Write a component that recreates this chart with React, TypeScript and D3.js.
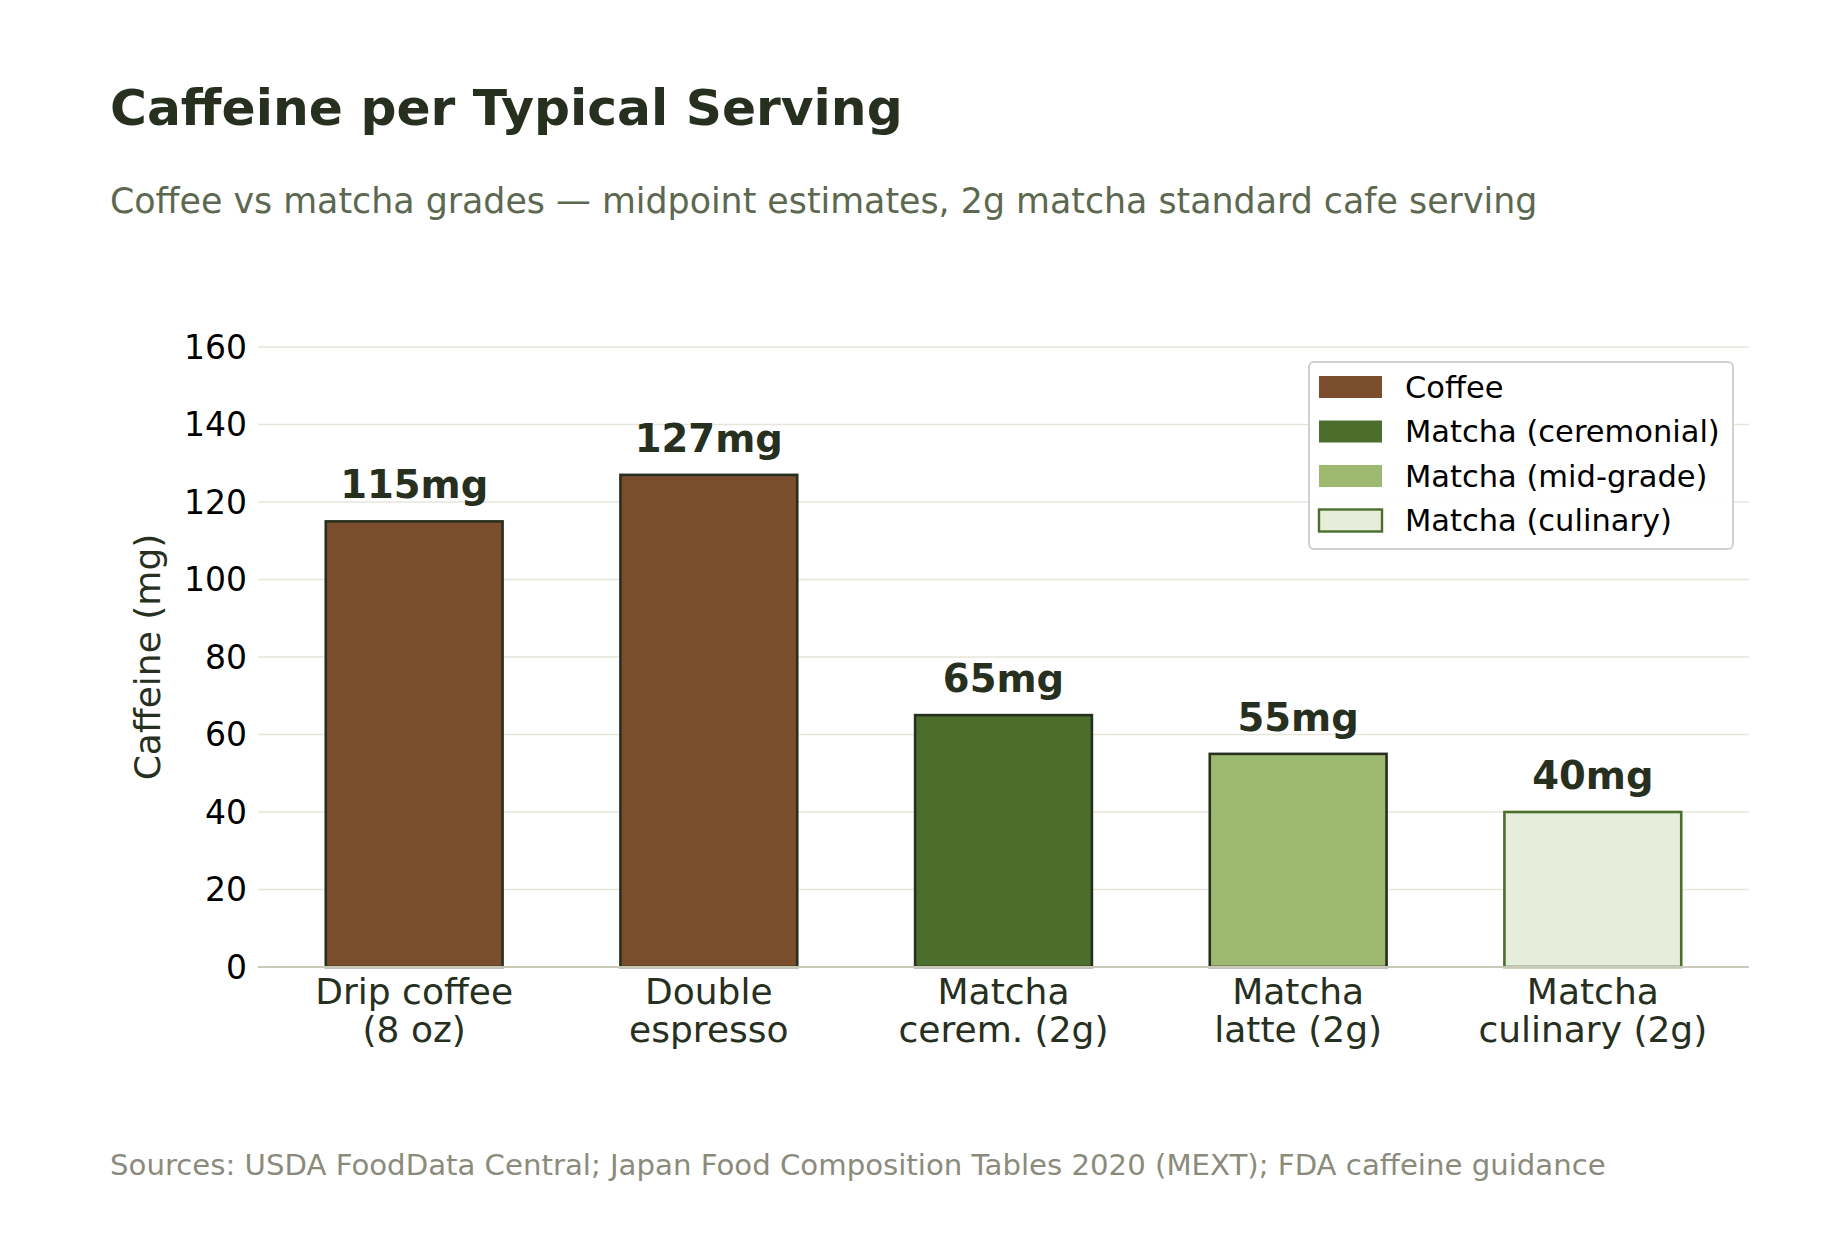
import React from 'react';
import * as d3 from 'd3';

// chart data
const categories = ['Drip coffee\n(8 oz)', 'Double\nespresso', 'Matcha\ncerem. (2g)', 'Matcha\nlatte (2g)', 'Matcha\nculinary (2g)'];
const caffeineMg = [115, 127, 65, 55, 40];
const barGroups = ['Coffee', 'Coffee', 'Matcha (ceremonial)', 'Matcha (mid-grade)', 'Matcha (culinary)'];
const legendLabels = ['Coffee', 'Matcha (ceremonial)', 'Matcha (mid-grade)', 'Matcha (culinary)'];
const yTicks = [0, 20, 40, 60, 80, 100, 120, 140, 160];

const FONT = '"DejaVu Sans", Verdana, sans-serif';
const INK = '#27301f';

const App = () => {
  const width = 1839;
  const height = 1240;
  const margin = { top: 347, right: 90, bottom: 273, left: 258 };

  const x = d3.scaleBand<string>()
    .domain(categories)
    .range([margin.left, width - margin.right])
    .paddingInner(0.4)
    .paddingOuter(0.23);

  const y = d3.scaleLinear()
    .domain([0, 160])
    .range([height - margin.bottom, margin.top]);

  const fill = d3.scaleOrdinal<string, string>()
    .domain(legendLabels)
    .range(['#7a4e2c', '#4c6e2d', '#9db86f', '#e6eedb']);
  const edge = d3.scaleOrdinal<string, string>()
    .domain(legendLabels)
    .range([INK, INK, INK, '#4c6e2d']);

  const legendX = 1309;
  const legendY = 362;

  return (
    <svg width={width} height={height} style={{ position: 'absolute', left: 0, top: 0, background: '#fff' }}
      fontFamily={FONT}>
      <text x={110} y={125} fontSize={50.3} fontWeight="bold" fill={INK}>Caffeine per Typical Serving</text>
      <text x={110} y={213} fontSize={34.8} fill="#5c6850">
        Coffee vs matcha grades — midpoint estimates, 2g matcha standard cafe serving
      </text>

      {/* grid */}
      {yTicks.filter(t => t > 0).map(t => (
        <line key={t} x1={margin.left} x2={width - margin.right} y1={y(t)} y2={y(t)}
          stroke="#e6e6dc" strokeWidth={1.7} />
      ))}

      {/* y tick labels */}
      {yTicks.map(t => (
        <text key={t} x={247} y={y(t)} dy="0.36em" textAnchor="end" fontSize={33} fill="#000">{t}</text>
      ))}

      <text transform={`translate(160,${y(80)}) rotate(-90)`} textAnchor="middle" fontSize={36} fill={INK}>
        Caffeine (mg)
      </text>

      {/* bars */}
      {categories.map((c, i) => (
        <g key={c}>
          <rect x={x(c)} y={y(caffeineMg[i])} width={x.bandwidth()} height={y(0) - y(caffeineMg[i])}
            fill={fill(barGroups[i])} stroke={edge(barGroups[i])} strokeWidth={2.6} />
          <text x={(x(c) as number) + x.bandwidth() / 2} y={y(caffeineMg[i]) - 23} textAnchor="middle"
            fontSize={38.5} fontWeight="bold" fill={INK}>{caffeineMg[i]}mg</text>
        </g>
      ))}

      {/* x axis */}
      <line x1={margin.left} x2={width - margin.right} y1={y(0)} y2={y(0)} stroke="#c9c9b9" strokeWidth={2} />
      {categories.map(c => (
        <text key={c} textAnchor="middle" fontSize={36} fill={INK}>
          {c.split('\n').map((ln, j) => (
            <tspan key={j} x={(x(c) as number) + x.bandwidth() / 2} y={1004 + j * 38}>{ln}</tspan>
          ))}
        </text>
      ))}

      {/* legend */}
      <rect x={legendX} y={legendY} width={424} height={187} rx={5} fill="#fff" fillOpacity={0.9}
        stroke="#d0d0d0" strokeWidth={2} />
      {legendLabels.map((l, i) => (
        <g key={l} transform={`translate(${legendX + 10},${legendY + 25 + i * 44.5})`}>
          <rect x={0} y={-11} width={63} height={22} fill={fill(l)}
            stroke={l === 'Matcha (culinary)' ? '#4c6e2d' : 'none'} strokeWidth={2.4} />
          <text x={86} y={0} dy="0.36em" fontSize={30.5} fill="#000">{l}</text>
        </g>
      ))}

      <text x={110} y={1175} fontSize={29.2} fill="#8b8b7c">
        Sources: USDA FoodData Central; Japan Food Composition Tables 2020 (MEXT); FDA caffeine guidance
      </text>
    </svg>
  );
};

export default App;
